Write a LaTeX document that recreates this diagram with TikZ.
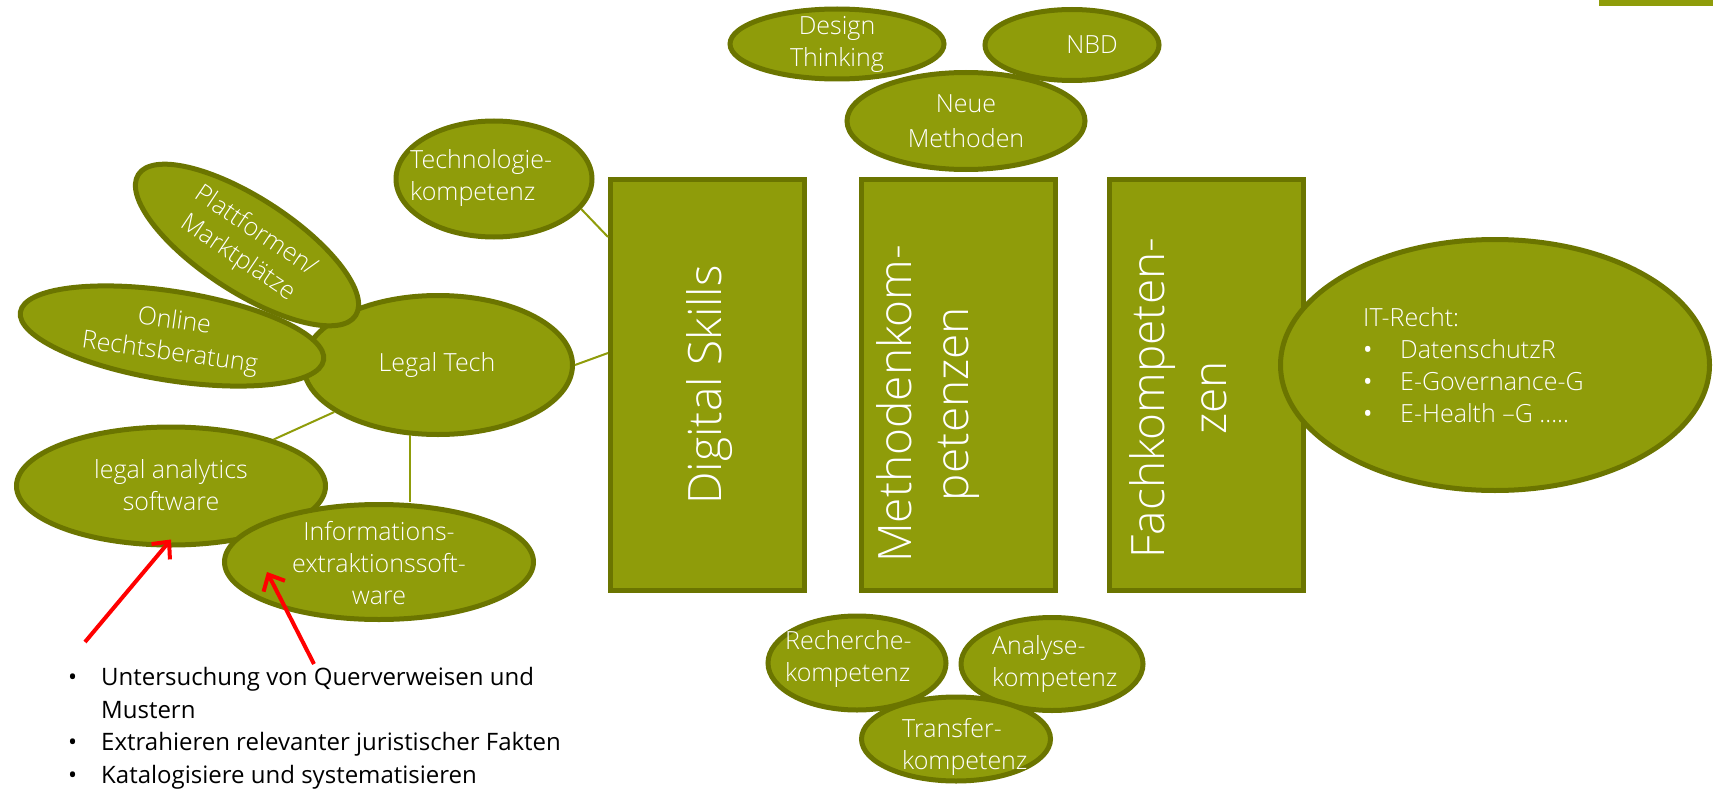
\documentclass[tikz,border=0pt]{standalone}
\usepackage{fontspec}
\IfFontExistsTF{Open Sans Light}{\setmainfont{Open Sans}[UprightFont=* Light]}{\setmainfont{Open Sans}}
\newfontfamily\regfont{Open Sans}
\usetikzlibrary{shapes.geometric,arrows.meta}
\definecolor{olivefill}{RGB}{143,156,10}
\definecolor{oliveedge}{RGB}{107,117,0}
\newcommand\lblsize{\fontsize{25}{32}\selectfont}
\newcommand\bigsize{\fontsize{46}{57}\selectfont}
\newcommand\bul{{\regfont •}}
\begin{document}
\begin{tikzpicture}[x=1pt,y=-1pt,
  blob/.style={ellipse,draw=oliveedge,fill=olivefill,line width=5pt,inner sep=0pt},
  box/.style={rectangle,draw=oliveedge,fill=olivefill,line width=5pt,inner sep=0pt,minimum width=194pt,minimum height=411pt},
  wtxt/.style={text=white,font=\lblsize,inner sep=0pt,align=center},
  wtxtl/.style={text=white,font=\lblsize,inner sep=0pt,align=left,anchor=west},
  bigtxt/.style={text=white,font=\bigsize,inner sep=0pt,align=center,rotate=90},
  link/.style={draw=olivefill,line width=2pt},
  redarrow/.style={draw=red,line width=4pt,-{Straight Barb[length=13pt,width=24pt]}},
]
\useasboundingbox (0,0) rectangle (1713,789);
\fill[olivefill] (1599,0) rectangle (1713,6);

% top cluster
\node[blob,minimum width=214pt,minimum height=70pt] (dt) at (837,44) {};
\node[blob,minimum width=174pt,minimum height=71pt] (nbd) at (1072,45) {};
\node[blob,minimum width=238pt,minimum height=97pt] (nm) at (966,121) {};
\node[wtxt] (dtt) at (837,44) {Design\\Thinking};
\node[wtxt] (nbdt) at (1092,45) {NBD};
\node[wtxt] (nmt) at (966,121) {Neue\\[3pt]Methoden};

% technology
\node[blob,minimum width=196pt,minimum height=116pt] (tk) at (494,179) {};
\node[wtxtl] (tkt) at (410,178) {Technologie-\\kompetenz};

% legal tech cluster
\node[blob,minimum width=269pt,minimum height=139pt] (lt) at (438,365) {};
\node[blob,minimum width=307pt,minimum height=89pt,rotate=-9] (or) at (172,336) {};
\node[blob,minimum width=259pt,minimum height=94pt,rotate=-33] (pm) at (247,245) {};
\node[blob,minimum width=309pt,minimum height=118pt] (la) at (171,486) {};
\node[blob,minimum width=309pt,minimum height=115pt] (ie) at (379,562) {};
\node[wtxt] (ltt) at (437,365) {Legal Tech};
\node[wtxt,rotate=-8] (ort) at (172,338) {Online\\Rechtsberatung};
\node[wtxt,rotate=-34] (pmt) at (247,245) {Plattformen/\\Marktplätze};
\node[wtxt] (lat) at (171,485) {legal analytics\\software};
\node[wtxt] (iet) at (379,563) {Informations-\\extraktionssoft-\\ware};

% columns
\node[box] (ds) at (707.5,385) {};
\node[box] (mk) at (958.5,385) {};
\node[box] (fk) at (1206,385) {};
\node[bigtxt] (dst) at (710,385) {Digital Skills};
\node[bigtxt] (mkt) at (928,404) {Methodenkom-\\petenzen};
\node[bigtxt] (fkt) at (1178,398) {Fachkompeten-\\[5pt]zen};

% IT-Recht
\node[blob,minimum width=429pt,minimum height=251pt] (itr) at (1495,365) {};
\node[anchor=north west,inner sep=0pt,text=white,font=\lblsize] (itt) at (1363,304)
  {\begin{tabular}{@{}p{37pt}@{}l@{}}\multicolumn{2}{@{}l@{}}{IT-Recht:}\\\bul&DatenschutzR\\\bul&E-Governance-G\\\bul&E-Health –G …..\end{tabular}};

% bottom cluster
\node[blob,minimum width=178pt,minimum height=94pt] (rk) at (857,663) {};
\node[blob,minimum width=182pt,minimum height=93pt] (ak) at (1052,664) {};
\node[blob,minimum width=189pt,minimum height=84pt] (tf) at (956,739) {};
\node[wtxtl] (rkt) at (785,659) {Recherche-\\kompetenz};
\node[wtxtl] (akt) at (992,664) {Analyse-\\kompetenz};
\node[wtxtl] (tft) at (902,747) {Transfer-\\kompetenz};

% connectors
\draw[link] (tk.-19) -- ([yshift=-60pt]ds.north west);
\draw[link] (lt.east) -- ([yshift=-176pt]ds.north west);
\draw[link] (la) -- (lt);
\draw[link] (lt.-112) -- (lt.-112 |- ie.north);

% bullet list
\node[anchor=north west,inner sep=0pt,font=\regfont\fontsize{24}{32.5}\selectfont] (bl) at (68,663)
  {\begin{tabular}{@{}p{33pt}@{}l@{}}•&Untersuchung von Querverweisen und\\&Mustern\\•&Extrahieren relevanter juristischer Fakten\\•&Katalogisiere und systematisieren\end{tabular}};

% red arrows
\coordinate (a1) at (85,642);
\coordinate (a2) at (314,664);
\draw[redarrow] (a1) -- ([yshift=8pt]la.south);
\draw[redarrow] (a2) -- ([xshift=-112pt,yshift=-10pt]ie.center);
\end{tikzpicture}
\end{document}
